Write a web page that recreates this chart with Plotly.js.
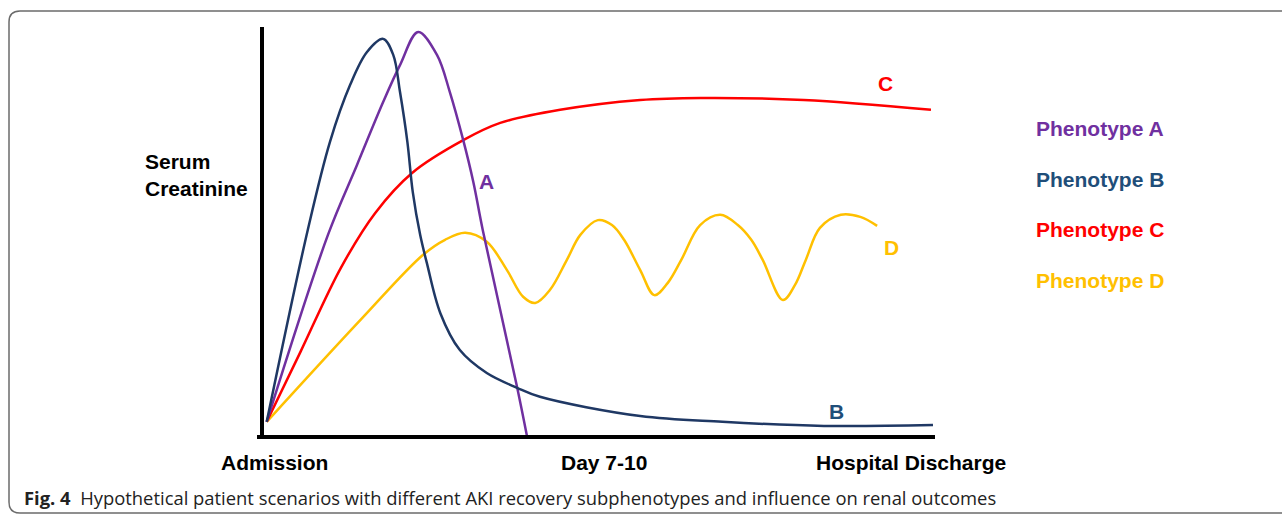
<!DOCTYPE html>
<html>
<head>
<meta charset="utf-8">
<script src="https://cdn.plot.ly/plotly-3.0.1.min.js"></script>
<style>
  html, body { margin: 0; padding: 0; background: #ffffff; }
  #chart { width: 1282px; height: 515px; }
</style>
</head>
<body>
<div id="chart"></div>
<script>
// Time axis: 0 = Admission, ~50 = Day 7-10, ~96 = Hospital Discharge
// Serum creatinine: arbitrary units 0-100 (hypothetical scenarios)
const phenoA_x = [0.7, 9.8, 14.1, 18.0, 20.5, 23.2, 26.0, 27.9, 29.9, 31.4, 32.8, 37.9, 39.4];
const phenoA_y = [3.7, 49.3, 66.3, 81.7, 90.7, 98.8, 93.2, 84.2, 72.4, 62.2, 50.5, 12.2, 0.0];

const phenoB_x = [0.7, 6.8, 10.1, 13.1, 15.6, 18.0, 19.5, 20.5, 21.6, 22.4, 23.5, 24.5, 26.5, 29.4, 33.4, 37.9, 41.3, 56.2, 68.4, 83.5, 99.7];
const phenoB_y = [3.7, 50.5, 72.0, 85.9, 93.9, 97.1, 93.2, 84.2, 72.0, 59.8, 49.3, 42.4, 30.2, 21.2, 15.6, 12.0, 9.8, 5.1, 3.7, 2.7, 2.9];

const phenoC_x = [0.7, 5.7, 11.7, 16.8, 22.3, 29.9, 35.4, 44.3, 56.2, 65.2, 80.5, 99.4];
const phenoC_y = [3.7, 20.7, 41.2, 54.6, 64.4, 72.4, 76.6, 79.8, 82.2, 82.7, 82.2, 79.8];

const phenoD_x = [0.7, 14.6, 23.9, 27.2, 30.2, 33.4, 36.4, 38.8, 40.6, 42.8, 45.3, 47.3, 49.9, 52.0, 53.8, 56.2, 58.3, 60.3, 62.3, 65.1, 68.1, 70.7, 72.7, 74.4, 77.4, 79.2, 80.8, 82.9, 86.0, 88.9, 91.4];
const phenoD_y = [3.7, 28.5, 44.4, 48.1, 49.8, 47.6, 40.7, 34.2, 32.7, 35.9, 43.2, 49.3, 52.9, 51.7, 48.1, 40.7, 34.6, 37.6, 43.2, 51.7, 54.2, 51.7, 48.1, 43.2, 33.4, 37.1, 43.2, 51.0, 54.2, 53.7, 51.5];

const seriesNames = ["Phenotype A", "Phenotype B", "Phenotype C", "Phenotype D"];
const curveLabels = ["A", "B", "C", "D"];
const xTickLabels = ["Admission", "Day 7-10", "Hospital Discharge"];
const yAxisLabel = "Serum<br>Creatinine";
const caption = "<b>Fig. 4</b>  Hypothetical patient scenarios with different AKI recovery subphenotypes and influence on renal outcomes";

const colA = "#7030a0", colB = "#1f3864", colBtext = "#1f4e79", colC = "#ff0000", colD = "#ffc000";

const W = 1282, H = 515;
const px = v => v / W;           // pixel -> paper x
const py = v => (H - v) / H;     // pixel -> paper y

const mk = (x, y, color, name) => ({
  x: x, y: y, type: "scatter", mode: "lines", name: name,
  line: { color: color, width: 2.5, shape: "spline", smoothing: 1.0 },
  hoverinfo: "skip"
});

const data = [
  mk(phenoD_x, phenoD_y, colD, seriesNames[3]),
  mk(phenoC_x, phenoC_y, colC, seriesNames[2]),
  mk(phenoA_x, phenoA_y, colA, seriesNames[0]),
  mk(phenoB_x, phenoB_y, colB, seriesNames[1])
];

const boldFont = (size, color) => ({ family: "Liberation Sans, Arial, sans-serif", size: size, color: color });

const annotations = [
  { xref: "paper", yref: "paper", x: px(143), y: py(175), xanchor: "left", yanchor: "middle", align: "left",
    text: "<b>" + yAxisLabel + "</b>", showarrow: false, font: boldFont(21, "#000") },
  { xref: "paper", yref: "paper", x: px(274), y: py(462), xanchor: "center", yanchor: "middle",
    text: "<b>" + xTickLabels[0] + "</b>", showarrow: false, font: boldFont(21, "#000") },
  { xref: "paper", yref: "paper", x: px(604), y: py(462), xanchor: "center", yanchor: "middle",
    text: "<b>" + xTickLabels[1] + "</b>", showarrow: false, font: boldFont(21, "#000") },
  { xref: "paper", yref: "paper", x: px(911), y: py(462), xanchor: "center", yanchor: "middle",
    text: "<b>" + xTickLabels[2] + "</b>", showarrow: false, font: boldFont(21, "#000") },
  { x: 33.3, y: 62.4, text: "<b>" + curveLabels[0] + "</b>", showarrow: false, font: boldFont(21, colA) },
  { x: 85.3, y: 6.3, text: "<b>" + curveLabels[1] + "</b>", showarrow: false, font: boldFont(21, colBtext) },
  { x: 92.7, y: 86.3, text: "<b>" + curveLabels[2] + "</b>", showarrow: false, font: boldFont(21, colC) },
  { x: 93.5, y: 46.1, text: "<b>" + curveLabels[3] + "</b>", showarrow: false, font: boldFont(21, colD) },
  { xref: "paper", yref: "paper", x: px(1034), y: py(128), xanchor: "left", yanchor: "middle",
    text: "<b>" + seriesNames[0] + "</b>", showarrow: false, font: boldFont(21, colA) },
  { xref: "paper", yref: "paper", x: px(1034), y: py(179), xanchor: "left", yanchor: "middle",
    text: "<b>" + seriesNames[1] + "</b>", showarrow: false, font: boldFont(21, colBtext) },
  { xref: "paper", yref: "paper", x: px(1034), y: py(229), xanchor: "left", yanchor: "middle",
    text: "<b>" + seriesNames[2] + "</b>", showarrow: false, font: boldFont(21, colC) },
  { xref: "paper", yref: "paper", x: px(1034), y: py(280), xanchor: "left", yanchor: "middle",
    text: "<b>" + seriesNames[3] + "</b>", showarrow: false, font: boldFont(21, colD) },
  { xref: "paper", yref: "paper", x: px(22), y: py(497), xanchor: "left", yanchor: "middle",
    text: caption, showarrow: false, font: { family: "Open Sans, sans-serif", size: 18.4, color: "#222" } }
];

const r = 11;
const borderPath =
  "M " + px(1290) + "," + py(11) +
  " L " + px(9 + r) + "," + py(11) +
  " Q " + px(9) + "," + py(11) + " " + px(9) + "," + py(11 + r) +
  " L " + px(9) + "," + py(513 - r) +
  " Q " + px(9) + "," + py(513) + " " + px(9 + r) + "," + py(513) +
  " L " + px(1290) + "," + py(513);

const shapes = [
  { type: "path", xref: "paper", yref: "paper", path: borderPath, line: { color: "#6b6b6b", width: 1.5 } },
  { type: "line", xref: "paper", yref: "paper", x0: px(262), x1: px(262), y0: py(27), y1: py(438),
    line: { color: "#000", width: 4 } },
  { type: "line", xref: "paper", yref: "paper", x0: px(257), x1: px(935), y0: py(437), y1: py(437),
    line: { color: "#000", width: 4 } }
];

const layout = {
  width: W, height: H,
  margin: { l: 0, r: 0, t: 0, b: 0 },
  paper_bgcolor: "#ffffff", plot_bgcolor: "rgba(0,0,0,0)",
  showlegend: false,
  xaxis: { domain: [px(262), px(935)], range: [0, 100], visible: false },
  yaxis: { domain: [py(437), py(27)], range: [0, 100], visible: false },
  annotations: annotations,
  shapes: shapes
};

Plotly.newPlot("chart", data, layout, { staticPlot: true, displayModeBar: false });
</script>
</body>
</html>
